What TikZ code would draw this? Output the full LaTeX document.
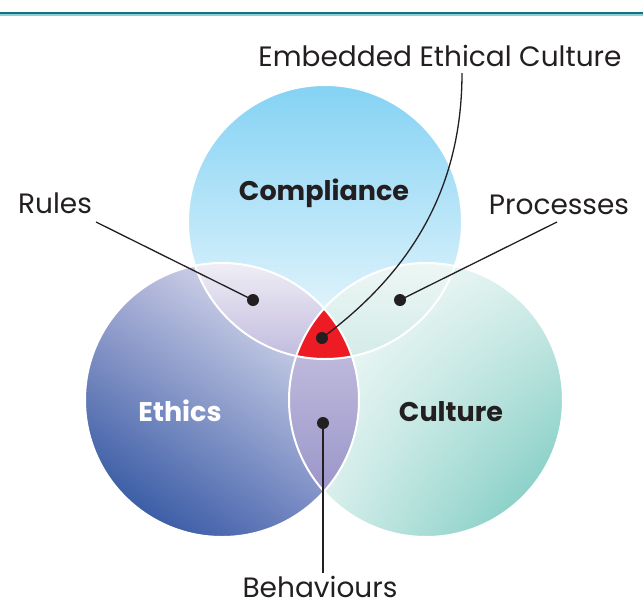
\documentclass[tikz,border=0pt]{standalone}
\usepackage{fontspec}
\usetikzlibrary{shadings}
\setmainfont{Poppins}
\definecolor{textgrey}{HTML}{231F20}
\definecolor{topteal}{HTML}{0E7580}
\definecolor{toplight}{HTML}{8CCFD6}
\definecolor{compblue}{HTML}{84D2F4}
\definecolor{comppale}{HTML}{F2FAFD}
\definecolor{ethdark}{HTML}{1A4597}
\definecolor{ethmid}{HTML}{A9ADD6}
\definecolor{ethlow}{HTML}{7D8CC6}
\definecolor{culthigh}{HTML}{D9EFEB}
\definecolor{cultlow}{HTML}{E3F3F0}
\definecolor{cultteal}{HTML}{6CC5BB}
\definecolor{rulestop}{HTML}{F0EEF6}
\definecolor{rulesbot}{HTML}{BFB9DC}
\definecolor{proctop}{HTML}{EDF7F5}
\definecolor{procbot}{HTML}{D2EBE7}
\definecolor{behtop}{HTML}{CAC6E3}
\definecolor{behbot}{HTML}{9A95C8}
\definecolor{corered}{HTML}{ED1C24}
\begin{document}
\begin{tikzpicture}[x=1pt,y=-1pt,
  lbl/.style={text=textgrey, anchor=base, inner sep=0pt, font=\fontsize{28}{28}\selectfont},
  setname/.style={anchor=base, inner sep=0pt, font=\bfseries\fontsize{27}{27}\selectfont},
  dot/.style={circle, fill=textgrey, inner sep=0pt, minimum size=12pt},
  leader/.style={draw=textgrey, line width=1.3pt},
  rim/.style={draw=white, line width=2pt}]
\useasboundingbox (0,0) rectangle (643,606);
\draw[toplight, line width=1.5pt] (0,15) -- (643,15);
\draw[topteal, line width=2.5pt] (0,12.8) -- (643,12.8);

% the three sets
\coordinate (comp) at (325,222);
\coordinate (eth) at (222,400);
\coordinate (cult) at (426,400);
\shade[top color=compblue, bottom color=comppale] (comp) circle[radius=137pt];
\shade[upper left=ethmid, upper right=white, lower left=ethdark, lower right=ethlow] (eth) circle[radius=137pt];
\shade[upper left=white, upper right=culthigh, lower left=cultlow, lower right=cultteal] (cult) circle[radius=137pt];

% overlaps
\begin{scope}
  \clip (comp) circle[radius=137pt];
  \clip (eth) circle[radius=137pt];
  \shade[top color=rulestop, bottom color=rulesbot] (180,262) rectangle (330,362);
\end{scope}
\begin{scope}
  \clip (comp) circle[radius=137pt];
  \clip (cult) circle[radius=137pt];
  \shade[top color=proctop, bottom color=procbot] (320,262) rectangle (470,362);
\end{scope}
\begin{scope}
  \clip (eth) circle[radius=137pt];
  \clip (cult) circle[radius=137pt];
  \shade[top color=behtop, bottom color=behbot] (280,305) rectangle (370,495);
\end{scope}
\begin{scope}
  \clip (comp) circle[radius=137pt];
  \clip (eth) circle[radius=137pt];
  \fill[corered] (cult) circle[radius=137pt];
\end{scope}
\draw[rim] (comp) circle[radius=137pt];
\draw[rim] (eth) circle[radius=137pt];
\draw[rim] (cult) circle[radius=137pt];

\node[setname, text=textgrey] (compliance) at (324,200) {Compliance};
\node[setname, text=white] (ethics) at (180,421) {Ethics};
\node[setname, text=textgrey] (culture) at (451,421) {Culture};

% labels and leaders
\node[lbl] (embedded) at (440,66) {Embedded Ethical Culture};
\node[lbl] (rules) at (55,213) {Rules};
\node[lbl] (processes) at (559,214) {Processes};
\node[lbl] (behaviours) at (320,597) {Behaviours};

\node[dot] (ruledot) at (253,300) {};
\node[dot] (procdot) at (400,300) {};
\node[dot] (coredot) at (322,338) {};
\node[dot] (behdot) at (323,423) {};

\coordinate (embfoot) at (462,73);
\coordinate (rulefoot) at (96,222);
\coordinate (procfoot) at (557,222);
\coordinate (behfoot) at (323,573);

\draw[leader] (embfoot) .. controls (462,200) and (400,280) .. (coredot.center);
\draw[leader] (rulefoot) -- (ruledot.center);
\draw[leader] (procfoot) -- (procdot.center);
\draw[leader] (behfoot) -- (behdot.center);
\end{tikzpicture}
\end{document}
